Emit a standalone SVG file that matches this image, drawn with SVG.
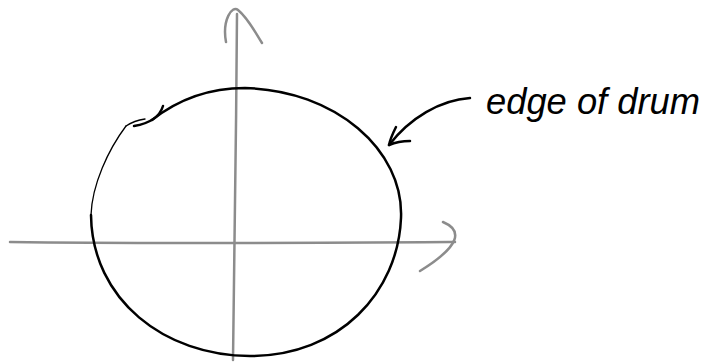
<svg xmlns="http://www.w3.org/2000/svg" width="712" height="364" viewBox="0 0 712 364">
<style>
.axis{fill:none;stroke:#8c8c8c;stroke-width:2.5;stroke-linecap:round;stroke-linejoin:round}
.ink{fill:none;stroke:#000;stroke-width:2.5;stroke-linecap:round;stroke-linejoin:round}
.thin{fill:none;stroke:#000;stroke-width:1.3;stroke-linecap:round}
.label{font-family:"Liberation Sans",Arial,sans-serif;font-style:italic;font-size:36px;fill:#000}
</style>
<rect width="712" height="364" fill="#fff"/>
<g id="axes">
<path class="axis" d="M 10 242 C 150 244 300 243 455 242"/>
<path class="axis" d="M 443 222 C 462 230 462 245 420 271"/>
<path class="axis" d="M 233 360 C 235 250 236 130 237 14"/>
<path class="axis" d="M 226 42 C 222 20 232 5 238 10 C 248 18 255 32 262 43"/>
</g>
<g id="drum-edge">
<path class="thin" d="M 126 126 C 108 150 92 185 91 215"/>
<path class="ink" d="M 91 215 C 92 300 165 356 250 356 C 340 356 398 292 401 218 C 404 150 335 90 245 88 C 210 88 180 98 152 120"/>
<path class="ink" d="M 163 106 C 160 116 152 123 134 126"/>
<path class="thin" d="M 126 126 C 132 122 138 120 145 119"/>
</g>
<g id="connectors">
<path class="ink" d="M 470 98 C 440 100 410 118 389 145"/>
<path class="ink" d="M 396 127 C 392 135 390 140 389 145 C 396 142 403 141 410 141"/>
</g>
<g id="label">
<text class="label" x="486" y="114" textLength="214" lengthAdjust="spacingAndGlyphs">edge of drum</text>
</g>
</svg>
